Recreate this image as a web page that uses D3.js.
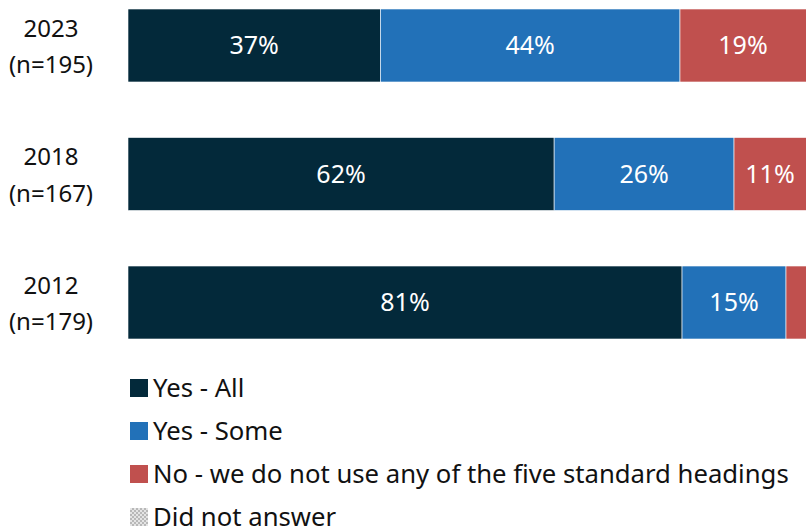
<!DOCTYPE html>
<html>
<head>
<meta charset="utf-8">
<script src="https://cdn.jsdelivr.net/npm/d3@7"></script>
<style>
  html, body { margin: 0; padding: 0; background: #fff; }
  svg { display: block; font-family: "Noto Sans", sans-serif; }
</style>
</head>
<body>
<div id="chart"></div>
<script>
(function() {
  // data
  const years = ["2023", "2018", "2012"];
  const sampleSizes = ["(n=195)", "(n=167)", "(n=179)"];
  const seriesNames = ["Yes - All", "Yes - Some", "No - we do not use any of the five standard headings", "Did not answer"];
  const yesAll = [36.9, 62.3, 81.0];
  const yesSome = [43.8, 26.3, 15.2];
  const noneUsed = [19.3, 10.8, 3.2];
  const noAnswer = [0, 0.6, 0.6];

  const W = 806, H = 529;
  const colors = ["#03293A", "#2271B8", "#C0504E", "url(#dna)"];

  const svg = d3.select("#chart").append("svg")
    .attr("width", W)
    .attr("height", H);

  // checker pattern for "did not answer"
  const pat = svg.append("defs").append("pattern")
    .attr("id", "dna")
    .attr("width", 4).attr("height", 4)
    .attr("patternUnits", "userSpaceOnUse");
  pat.append("rect").attr("width", 4).attr("height", 4).attr("fill", "#e4e4e4");
  pat.append("rect").attr("width", 2).attr("height", 2).attr("fill", "#b8b8b8");
  pat.append("rect").attr("x", 2).attr("y", 2).attr("width", 2).attr("height", 2).attr("fill", "#b8b8b8");

  const x = d3.scaleLinear().domain([0, 100]).range([128, 812]);
  const y = d3.scaleBand().domain(years).range([9, 339]).paddingInner(0.432).paddingOuter(0);
  const bh = y.bandwidth();

  // stack it up
  const rows = years.map((yr, i) => ({
    year: yr, a: yesAll[i], b: yesSome[i], c: noneUsed[i], d: noAnswer[i]
  }));
  const stack = d3.stack().keys(["a", "b", "c", "d"]);
  const layers = stack(rows);

  const bars = svg.append("g");
  layers.forEach((layer, k) => {
    bars.selectAll(null)
      .data(layer)
      .enter()
      .append("rect")
      .attr("x", d => x(d[0]))
      .attr("y", d => y(d.data.year))
      .attr("width", d => x(d[1]) - x(d[0]))
      .attr("height", bh)
      .attr("fill", colors[k])
      .attr("stroke", "#fff")
      .attr("stroke-width", 0.6);
  });

  // value labels (only for the bigger pieces)
  layers.slice(0, 3).forEach((layer) => {
    bars.selectAll(null)
      .data(layer.filter(d => d[1] - d[0] >= 8))
      .enter()
      .append("text")
      .attr("x", d => (x(d[0]) + Math.min(x(d[1]), W)) / 2)
      .attr("y", d => y(d.data.year) + bh / 2)
      .attr("dy", "0.35em")
      .attr("text-anchor", "middle")
      .style("fill", "#fff")
      .style("font-size", "25px")
      .text(d => Math.round(d[1] - d[0]) + "%");
  });

  // category labels on the left
  const cats = svg.append("g");
  years.forEach((yr, i) => {
    const cy = y(yr) + bh / 2;
    cats.append("text")
      .attr("x", 51).attr("y", cy - 17)
      .attr("dy", "0.35em")
      .attr("text-anchor", "middle")
      .style("fill", "#111")
      .style("font-size", "24px")
      .text(yr);
    cats.append("text")
      .attr("x", 51).attr("y", cy + 19.5)
      .attr("dy", "0.35em")
      .attr("text-anchor", "middle")
      .style("fill", "#111")
      .style("font-size", "24px")
      .text(sampleSizes[i]);
  });

  // legend
  const leg = svg.append("g");
  seriesNames.forEach((name, i) => {
    const base = 397 + i * 43; // text baseline
    leg.append("rect")
      .attr("x", 130).attr("y", base - 18)
      .attr("width", 18).attr("height", 18)
      .attr("fill", colors[i]);
    leg.append("text")
      .attr("x", 153).attr("y", base)
      .style("fill", "#111")
      .style("font-size", "25.7px")
      .text(name);
  });
})();
</script>
</body>
</html>
